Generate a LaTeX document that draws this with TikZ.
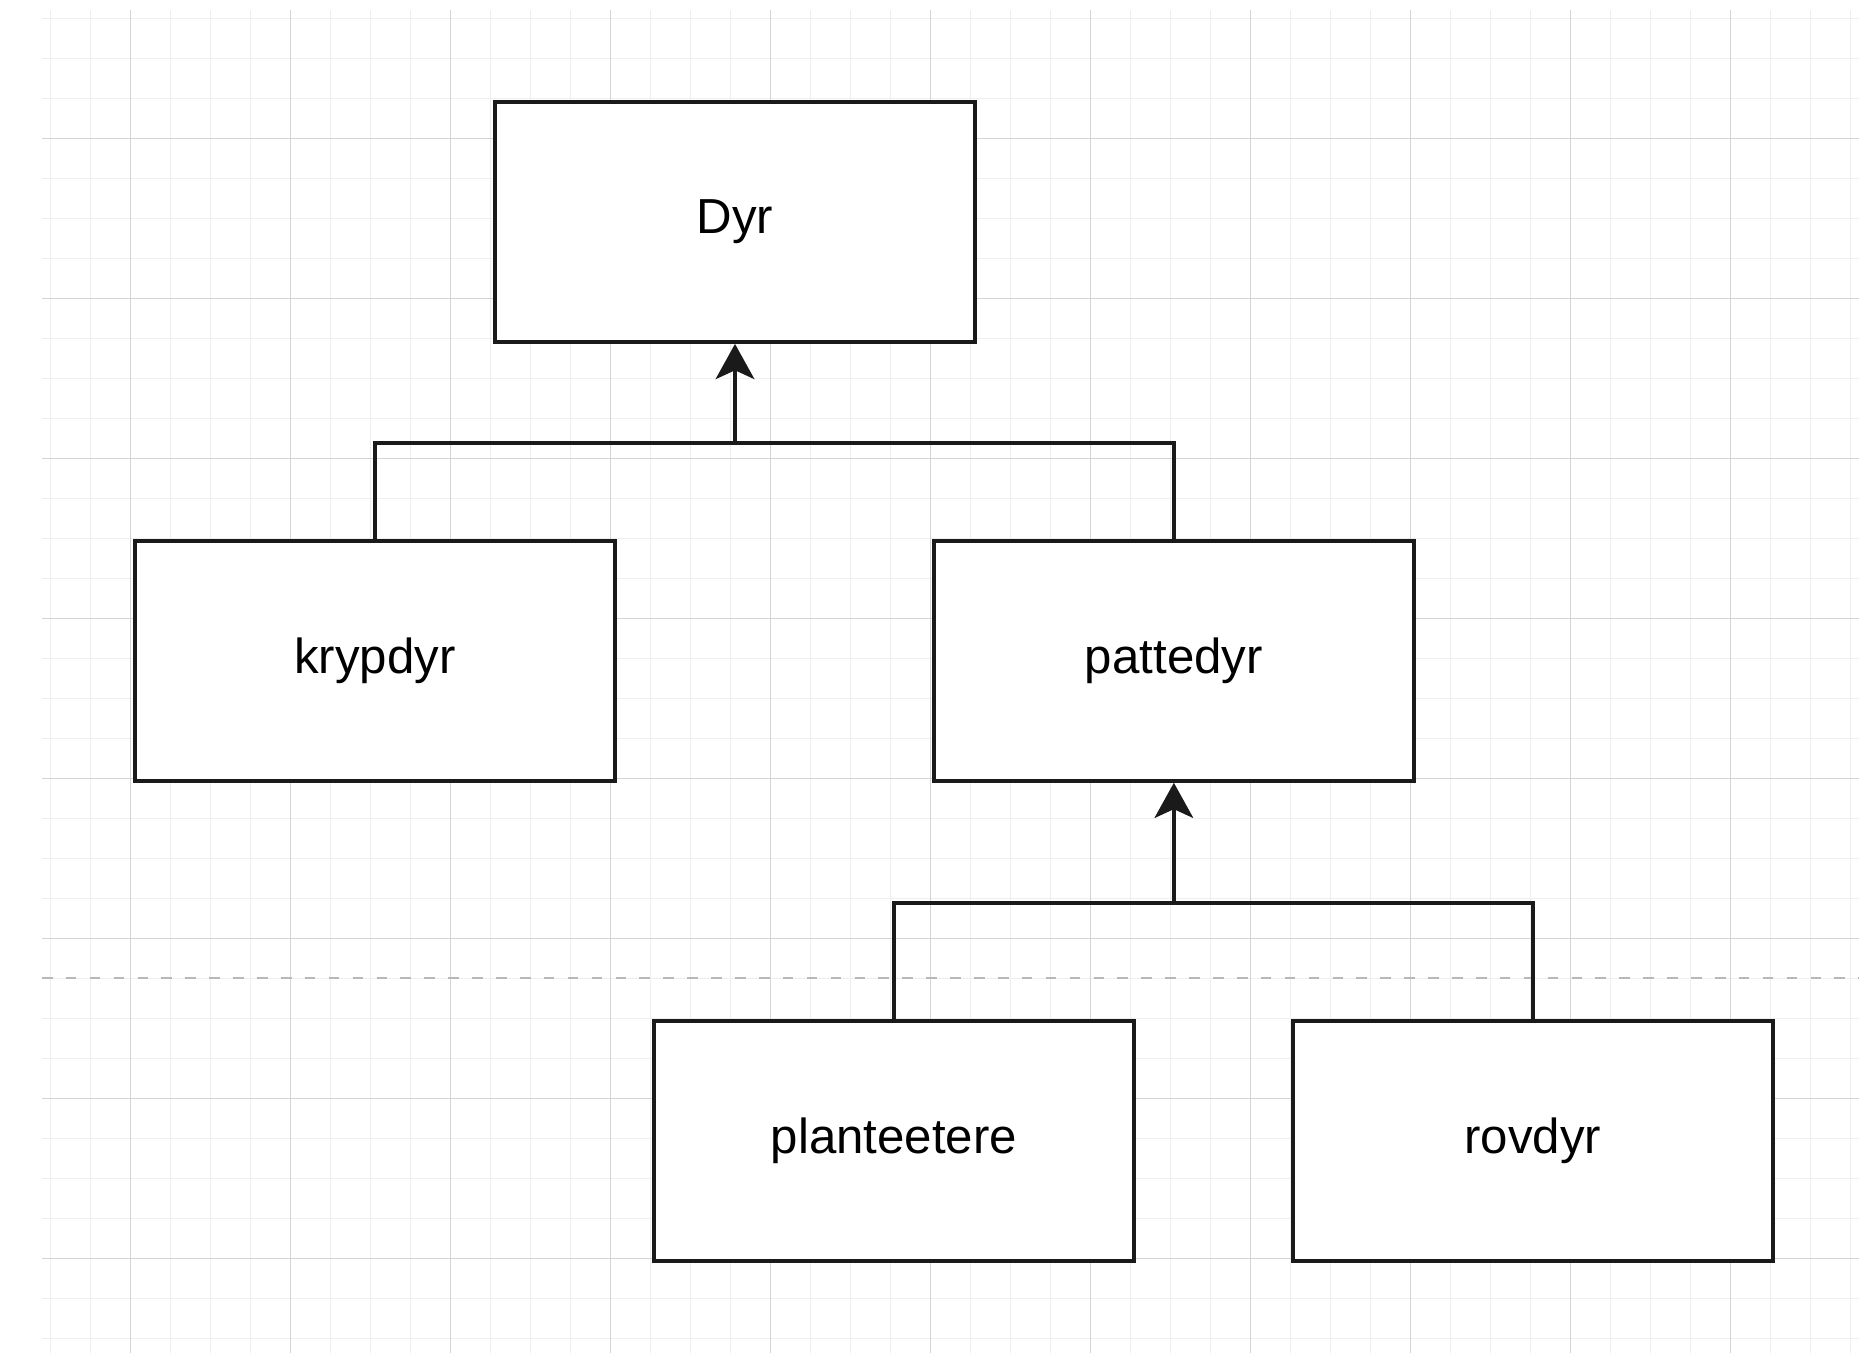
\documentclass[tikz,border=0pt]{standalone}
\usepackage{fontspec}
\setmainfont{Liberation Sans}
\usepackage{xcolor}
\definecolor{boxline}{HTML}{1a1a1a}
\definecolor{gridmajor}{HTML}{d4d4d4}
\definecolor{gridminor}{HTML}{eeeeee}
\definecolor{pagebreak}{HTML}{b8b8b8}
\usepackage{tikz}
\usetikzlibrary{
  arrows.meta,
  positioning
}

\begin{document}
\begin{tikzpicture}[
  animal/.style={rectangle, draw=boxline, fill=white, line width=1.1pt, minimum width=4.8cm, minimum height=2.4cm, font=\fontsize{14}{16}\selectfont},
  link/.style={draw=boxline, line width=1pt},
  arr/.style={-{Stealth[length=10pt, width=11pt, inset=2.5pt]}, line width=1pt, boxline},
  minorgrid/.style={gridminor, line width=0.3pt},
  majorgrid/.style={gridmajor, line width=0.4pt},
]

\useasboundingbox (0,0) rectangle (18.59,13.53);
\fill[white] (0,0) rectangle (18.59,13.53);

% Rutenett
\begin{scope}[shift={(1.304,0.943)}]
  \clip (-0.884,-0.943) rectangle (17.286,12.487);
  \draw[minorgrid, step=0.4] (-0.884,-0.943) grid (17.286,12.487);
  \draw[majorgrid, step=1.6] (-0.884,-0.943) grid (17.286,12.487);
\end{scope}

% Sideskift
\draw[pagebreak, line width=0.7pt, dash pattern=on 3pt off 3.8pt] (0.42,3.75) -- (18.59,3.75);

\node[animal] (dyr) at (7.35,11.31) {Dyr};
\node[animal, below=1.95cm of dyr, xshift=-3.6cm] (krypdyr) {krypdyr};
\node[animal, right=3.15cm of krypdyr] (pattedyr) {pattedyr};
\node[animal, below=2.36cm of pattedyr, xshift=-2.8cm] (planteetere) {planteetere};
\node[animal, right=1.55cm of planteetere] (rovdyr) {rovdyr};

\coordinate (bar1) at ([yshift=-0.99cm]dyr.south);
\coordinate (bar2) at ([yshift=-1.2cm]pattedyr.south);

\draw[link] (krypdyr.north) |- (bar1) -| (pattedyr.north);
\draw[arr] (bar1) -- (dyr.south);

\draw[link] (planteetere.north) |- (bar2) -| (rovdyr.north);
\draw[arr] (bar2) -- (pattedyr.south);

\end{tikzpicture}
\end{document}
